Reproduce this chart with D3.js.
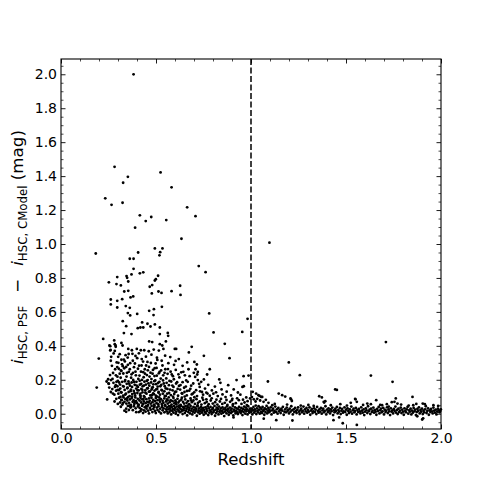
<!DOCTYPE html>
<html>
<head>
<meta charset="utf-8">
<script src="https://cdn.jsdelivr.net/npm/d3@7"></script>
<style>
  body { margin: 0; background: #fff; }
  svg { display: block; font-family: "DejaVu Sans", sans-serif; }
</style>
</head>
<body>
<div id="chart"></div>
<script>
// [redshift, i_PSF - i_CModel] pairs
let sparsePoints = [
  [0.382,2.00],[0.282,1.455],[0.352,1.396],[0.327,1.361],[0.233,1.269],[0.266,1.231],[0.324,1.243],
  [0.524,1.422],[0.582,1.334],[0.664,1.216],[0.708,1.164],[0.415,1.169],[0.475,1.159],[0.446,1.135],
  [0.554,1.141],[0.390,1.096],[0.634,1.031],[0.183,0.944],[0.406,0.950],[0.494,0.974],[0.534,0.974],
  [0.522,0.952],[0.518,0.933],[0.362,0.913],[0.382,0.913],[1.097,1.008],
  [0.382,0.854],[0.725,0.870],[0.761,0.834],[0.296,0.805],[0.345,0.811],[0.348,0.801],[0.371,0.821],
  [0.415,0.827],[0.433,0.833],[0.511,0.813],[0.499,0.793],[0.354,0.779],[0.252,0.774],[0.292,0.764],
  [0.315,0.756],[0.494,0.785],[0.467,0.748],[0.480,0.758],[0.627,0.754],[0.333,0.720],[0.354,0.724],
  [0.478,0.709],[0.513,0.720],[0.529,0.712],[0.582,0.722],[0.629,0.700],[0.262,0.673],[0.262,0.644],
  [0.296,0.665],[0.322,0.675],[0.366,0.685],[0.380,0.691],[0.296,0.626],[0.341,0.634],[0.362,0.624],
  [0.352,0.593],[0.364,0.579],[0.401,0.588],[0.464,0.606],[0.489,0.616],[0.531,0.630],[0.487,0.581],
  [0.780,0.591],[0.982,0.559],[0.325,0.545],[0.427,0.538],[0.455,0.530],[0.343,0.516],[0.404,0.504],
  [0.418,0.508],[0.433,0.508],[0.471,0.514],[0.494,0.526],[0.520,0.508],[0.803,0.479],[0.954,0.482],
  [0.331,0.475],[0.371,0.469],[0.520,0.469],[0.562,0.476],[0.564,0.459],[0.222,0.441],[0.862,0.412],
  [0.887,0.327],[1.710,0.422],[1.199,0.302],[1.257,0.227],[1.631,0.225],[1.745,0.188],[1.089,0.190],
  [0.961,0.221],[0.987,0.225],[0.955,0.158],[0.199,0.325],[0.188,0.154],[0.243,0.084]
];

let cloudPoints = [
  [0.280,0.432],[0.287,0.402],[0.288,0.394],[0.318,0.417],[0.324,0.402],[0.259,0.398],[0.261,0.376],
  [0.354,0.382],[0.464,0.426],[0.480,0.422],[0.552,0.426],[0.520,0.410],[0.533,0.402],[0.539,0.382],
  [0.599,0.382],[0.606,0.382],[0.373,0.374],[0.399,0.382],[0.420,0.374],[0.438,0.374],[0.462,0.368],
  [0.488,0.378],[0.515,0.372],[0.255,0.402],[0.259,0.373],[0.264,0.335],[0.283,0.410],[0.283,0.370],
  [0.301,0.335],[0.673,0.361],[0.688,0.394],[0.664,0.302],[0.752,0.341],
  [0.340,0.345],[0.356,0.352],[0.392,0.340],[0.410,0.356],[0.447,0.336],[0.476,0.348],[0.505,0.330],
  [0.548,0.342],[0.575,0.334],[0.620,0.322],[0.318,0.318],[0.302,0.300],[0.336,0.308],[0.378,0.312],
  [0.425,0.322],[0.455,0.305],[0.498,0.296],[0.530,0.312],[0.565,0.298],[0.595,0.288],[0.640,0.282],
  [0.702,0.305],
  [0.268,0.282],[0.285,0.262],[0.296,0.275],[0.315,0.255],[0.325,0.280],[0.318,0.252],[0.333,0.268],
  [0.347,0.241],[0.352,0.288],[0.362,0.262],[0.371,0.232],[0.384,0.274],[0.392,0.248],[0.405,0.265],
  [0.413,0.225],[0.424,0.284],[0.433,0.245],[0.441,0.262],[0.452,0.228],[0.463,0.276],[0.471,0.242],
  [0.484,0.258],[0.492,0.222],[0.503,0.270],[0.515,0.238],[0.527,0.255],[0.538,0.226],[0.549,0.262],
  [0.561,0.235],[0.577,0.248],[0.589,0.221],[0.604,0.258],[0.618,0.232],[0.633,0.244],[0.652,0.226],
  [0.671,0.262],[0.715,0.290],[0.708,0.262],[0.720,0.246],[0.717,0.231],[0.783,0.262],[0.769,0.231],
  [0.258,0.228],[0.274,0.240],[0.297,0.218],[0.309,0.236],
  [0.240,0.190],[0.252,0.176],[0.263,0.198],[0.276,0.182],[0.288,0.168],[0.299,0.194],[0.311,0.172],
  [0.322,0.188],[0.330,0.160],[0.338,0.198],[0.346,0.176],[0.355,0.190],[0.363,0.165],[0.372,0.184],
  [0.380,0.199],[0.388,0.170],[0.397,0.188],[0.405,0.158],[0.414,0.194],[0.422,0.176],[0.430,0.162],
  [0.439,0.189],[0.447,0.172],[0.456,0.198],[0.465,0.165],[0.474,0.184],[0.483,0.156],[0.491,0.192],
  [0.500,0.174],[0.509,0.160],[0.518,0.188],[0.528,0.170],[0.537,0.196],[0.546,0.162],[0.556,0.182],
  [0.568,0.168],[0.580,0.190],[0.592,0.158],[0.606,0.178],[0.621,0.164],[0.640,0.186],[0.657,0.160],
  [0.667,0.188],[0.696,0.178],[0.706,0.217],[0.752,0.202],[0.738,0.188],[0.720,0.198],[0.833,0.202],
  [0.839,0.182],[0.924,0.198],[0.962,0.162],[0.685,0.165],[0.730,0.158],[0.775,0.170],[0.810,0.160],
  [0.880,0.168],[0.254,0.154],[0.250,0.178],[0.248,0.203],[0.273,0.119],[0.292,0.188],[0.297,0.162],
  [0.304,0.139],[0.313,0.099],[0.320,0.080],
  [0.262,0.128],[0.270,0.145],[0.281,0.112],[0.290,0.136],[0.302,0.118],[0.312,0.148],[0.318,0.125],
  [0.327,0.106],[0.335,0.140],[0.342,0.118],[0.349,0.150],[0.356,0.128],[0.361,0.104],[0.368,0.142],
  [0.375,0.116],[0.383,0.134],[0.390,0.108],[0.396,0.148],[0.402,0.122],[0.409,0.138],[0.416,0.110],
  [0.423,0.146],[0.429,0.126],[0.436,0.104],[0.443,0.138],[0.450,0.118],[0.457,0.150],[0.463,0.130],
  [0.470,0.108],[0.477,0.142],[0.485,0.120],[0.492,0.136],[0.499,0.106],[0.506,0.146],[0.513,0.124],
  [0.521,0.112],[0.529,0.140],[0.536,0.118],[0.544,0.132],[0.552,0.104],[0.560,0.146],[0.569,0.122],
  [0.578,0.110],[0.587,0.138],[0.596,0.116],[0.606,0.130],[0.616,0.106],[0.627,0.142],[0.638,0.118],
  [0.650,0.128],[0.662,0.108],[0.675,0.136],[0.688,0.114],[0.701,0.126],[0.716,0.104],[0.732,0.132],
  [0.748,0.112],[0.765,0.124],[0.783,0.106],[0.802,0.118],[0.825,0.104],[0.850,0.114],[0.909,0.143],
  [0.931,0.125],[0.872,0.130],[0.895,0.108]
];

let cloudExtra = [
  [0.262,0.312],[0.271,0.205],[0.277,0.355],[0.284,0.158],[0.289,0.226],[0.293,0.302],[0.298,0.141],
  [0.304,0.265],[0.306,0.184],[0.309,0.351],[0.314,0.212],[0.316,0.127],[0.321,0.291],[0.326,0.163],
  [0.328,0.237],[0.331,0.319],[0.336,0.191],[0.338,0.112],[0.343,0.276],[0.345,0.219],[0.350,0.154],
  [0.351,0.331],[0.357,0.247],[0.359,0.177],[0.364,0.298],[0.366,0.133],[0.369,0.212],[0.374,0.158],
  [0.376,0.353],[0.379,0.241],[0.385,0.187],[0.387,0.121],[0.389,0.296],[0.394,0.226],[0.398,0.166],
  [0.401,0.327],[0.403,0.139],[0.407,0.205],[0.411,0.283],[0.415,0.171],[0.418,0.119],[0.421,0.248],
  [0.426,0.199],[0.428,0.141],[0.432,0.307],[0.435,0.215],[0.437,0.166],[0.442,0.236],[0.444,0.124],
  [0.448,0.284],[0.451,0.193],[0.453,0.149],[0.457,0.256],[0.460,0.179],[0.466,0.219],[0.468,0.131],
  [0.473,0.299],[0.476,0.204],[0.479,0.152],[0.482,0.236],[0.486,0.173],[0.489,0.115],[0.493,0.268],
  [0.496,0.196],[0.501,0.143],[0.504,0.224],[0.507,0.317],[0.511,0.181],[0.514,0.128],[0.519,0.247],
  [0.523,0.162],[0.525,0.207],[0.532,0.137],[0.534,0.284],[0.541,0.178],[0.545,0.241],[0.551,0.149],
  [0.554,0.208],[0.559,0.118],[0.563,0.263],[0.571,0.193],[0.574,0.142],[0.583,0.231],[0.586,0.166],
  [0.594,0.203],[0.599,0.128],[0.603,0.311],[0.611,0.186],[0.614,0.146],[0.623,0.214],[0.629,0.169],
  [0.636,0.121],[0.644,0.247],[0.648,0.153],[0.659,0.196],[0.663,0.134],[0.677,0.221],[0.681,0.147],
  [0.693,0.118],[0.699,0.241],[0.711,0.139],[0.727,0.176],[0.742,0.128],[0.758,0.148],[0.771,0.119],
  [0.794,0.137],[0.816,0.126],[0.845,0.143],[0.866,0.098],[0.902,0.088],[0.944,0.112],[0.975,0.096],
  [0.315,0.041],[0.326,0.063],[0.347,0.091],[0.361,0.047],[0.374,0.101],[0.389,0.068],[0.407,0.049],
  [0.419,0.104],[0.434,0.087],[0.447,0.043],[0.461,0.067],[0.478,0.109],[0.492,0.047],[0.506,0.101],
  [0.519,0.083],[0.533,0.047],[0.546,0.105],[0.561,0.079],[0.575,0.044],[0.589,0.101],[0.604,0.069],
  [0.621,0.047],[0.633,0.083],[0.651,0.101],[0.666,0.047],[0.684,0.079],[0.702,0.097],[0.719,0.049],
  [0.744,0.094],[0.765,0.085],[0.793,0.091],[0.818,0.083],[0.842,0.087],[0.871,0.081],[0.899,0.079],
  [0.927,0.091],[0.958,0.083],[0.978,0.051]
];

let corePoints = [
  [0.282,0.072],[0.291,0.088],[0.299,0.058],[0.306,0.094],[0.311,0.066],[0.317,0.082],[0.323,0.054],
  [0.329,0.096],[0.334,0.070],[0.339,0.086],[0.344,0.060],[0.349,0.078],[0.353,0.098],[0.358,0.064],
  [0.363,0.084],[0.368,0.052],[0.372,0.092],[0.377,0.070],[0.382,0.080],[0.386,0.058],[0.391,0.096],
  [0.395,0.074],[0.400,0.062],[0.404,0.088],[0.409,0.054],[0.413,0.078],[0.418,0.094],[0.422,0.066],
  [0.427,0.084],[0.431,0.056],[0.436,0.072],[0.440,0.098],[0.445,0.062],[0.449,0.086],[0.454,0.070],
  [0.458,0.052],[0.463,0.090],[0.467,0.076],[0.472,0.060],[0.476,0.094],[0.481,0.068],[0.485,0.082],
  [0.490,0.054],[0.494,0.074],[0.499,0.092],[0.503,0.062],[0.508,0.080],[0.512,0.056],[0.517,0.096],
  [0.521,0.070],[0.526,0.086],[0.530,0.058],[0.535,0.076],[0.539,0.064],[0.544,0.090],[0.548,0.052],
  [0.553,0.072],[0.558,0.084],[0.562,0.060],[0.567,0.096],[0.572,0.068],[0.577,0.080],[0.582,0.054],
  [0.587,0.074],[0.592,0.092],[0.597,0.062],[0.602,0.078],[0.607,0.056],[0.613,0.088],[0.618,0.066],
  [0.624,0.076],[0.630,0.052],[0.636,0.094],[0.642,0.070],[0.648,0.060],[0.654,0.084],[0.661,0.064],
  [0.668,0.074],[0.675,0.056],[0.682,0.090],[0.689,0.068],[0.697,0.078],[0.705,0.058],[0.713,0.086],
  [0.721,0.064],[0.730,0.072],[0.739,0.054],[0.748,0.082],[0.757,0.062],[0.767,0.070],[0.777,0.056],
  [0.788,0.078],[0.799,0.060],[0.811,0.068],[0.823,0.054],[0.836,0.072],[0.849,0.058],[0.862,0.064],
  [0.876,0.052],[0.890,0.070],[0.905,0.056],[0.920,0.062],[0.936,0.080],[0.950,0.058],[0.966,0.066],
  [0.982,0.074],[0.995,0.090],[1.009,0.129],[1.027,0.119],[1.039,0.109],[1.054,0.099],[1.045,0.105],
  [1.059,0.099],[1.005,0.098],[1.015,0.085],[1.024,0.072],[1.033,0.088],[1.048,0.078],[1.066,0.070],
  [1.078,0.082],[1.092,0.064],
  [0.343,0.011],[0.369,0.040],[0.378,0.021],[0.396,0.009],[0.418,0.015],
  [0.334,0.018],[0.343,0.030],[0.352,0.046],[0.357,0.022],[0.366,0.036],[0.384,0.044],[0.393,0.032],
  [0.405,0.042],[0.410,0.010],[0.414,0.034],[0.423,0.026],[0.427,0.046],[0.432,0.004],[0.436,0.020],
  [0.441,0.038],[0.445,0.012],[0.450,0.030],[0.454,0.044],[0.459,0.018],[0.463,0.002],[0.468,0.034],
  [0.472,0.024],[0.477,0.046],[0.481,0.010],[0.486,0.028],[0.490,0.040],[0.495,0.016],[0.499,0.004],
  [0.504,0.036],[0.508,0.022],[0.513,0.044],[0.517,0.012],[0.522,0.030],[0.526,0.002],[0.531,0.040],
  [0.535,0.020],[0.540,0.032],[0.544,0.008],[0.549,0.046],[0.553,0.026],
  [0.556,0.014],[0.559,0.038],[0.562,0.002],[0.565,0.026],[0.568,0.044],[0.571,0.010],[0.574,0.032],
  [0.577,0.020],[0.580,-0.004],[0.583,0.040],[0.586,0.016],[0.589,0.028],[0.592,0.006],[0.595,0.046],
  [0.598,0.022],[0.601,0.034],[0.604,0.000],[0.607,0.012],[0.610,0.042],[0.613,0.026],[0.616,-0.008],
  [0.619,0.018],[0.622,0.036],[0.625,0.008],[0.628,0.030],[0.631,0.046],[0.634,0.014],[0.637,0.024],
  [0.640,-0.002],[0.643,0.040],[0.646,0.020],[0.649,0.032],[0.652,0.004],[0.655,0.044],[0.658,0.016],
  [0.661,0.028],[0.664,-0.010],[0.667,0.038],[0.670,0.010],[0.673,0.022],[0.676,0.034],[0.679,0.002],
  [0.682,0.046],[0.685,0.018],[0.688,0.030],[0.691,-0.004],[0.694,0.012],[0.697,0.040],[0.700,0.024],
  [0.703,0.006],[0.706,0.036],[0.709,0.016],[0.712,0.028],[0.715,-0.012],[0.718,0.044],[0.721,0.008],
  [0.724,0.020],[0.727,0.032],[0.730,0.000],[0.733,0.014],[0.736,0.040],[0.739,0.026],[0.742,0.006],
  [0.745,0.018],[0.748,0.034],[0.751,-0.006],
  [0.754,0.022],[0.757,0.010],[0.760,0.038],[0.763,0.002],[0.766,0.028],[0.769,0.016],[0.772,0.044],
  [0.775,-0.008],[0.778,0.032],[0.781,0.006],[0.784,0.020],[0.787,0.040],[0.790,0.012],[0.793,-0.002],
  [0.796,0.026],[0.799,0.034],[0.802,0.008],[0.805,0.018],[0.808,0.046],[0.811,-0.012],[0.814,0.024],
  [0.817,0.004],[0.820,0.036],[0.823,0.014],[0.826,0.028],[0.829,-0.004],[0.832,0.042],[0.835,0.010],
  [0.838,0.020],[0.841,0.032],[0.844,0.000],[0.847,0.016],[0.850,0.038],[0.853,0.006],[0.856,0.026],
  [0.859,-0.014],[0.862,0.012],[0.865,0.034],[0.868,0.022],[0.871,0.002],[0.874,0.044],[0.877,0.016],
  [0.880,0.028],[0.883,-0.006],[0.886,0.008],[0.889,0.036],[0.892,0.020],[0.895,0.004],[0.898,0.030],
  [0.901,0.012],[0.904,0.046],[0.907,-0.010],[0.910,0.024],[0.913,0.014],[0.916,0.038],[0.919,0.002],
  [0.922,0.018],[0.925,0.032],[0.928,0.008],[0.931,-0.002],[0.934,0.026],[0.937,0.040],[0.940,0.012],
  [0.943,0.020],[0.946,0.004],[0.949,0.034],[0.952,0.016],[0.955,-0.008],[0.958,0.028],[0.961,0.010],
  [0.964,0.042],[0.967,0.022],[0.970,0.000],[0.973,0.036],[0.976,0.014],[0.979,0.026],[0.982,-0.004],
  [0.985,0.044],[0.988,0.018],[0.991,0.006],[0.994,0.030],[0.997,0.012]
];

let bandPoints = [
  [1.001,0.012],[1.004,0.030],[1.007,-0.004],[1.010,0.020],[1.013,0.040],[1.016,0.006],[1.019,0.026],
  [1.022,0.014],[1.025,0.048],[1.028,-0.002],[1.031,0.032],[1.034,0.018],[1.037,0.008],[1.040,0.044],
  [1.043,0.024],[1.046,0.000],[1.049,0.036],[1.052,0.012],[1.055,0.028],[1.058,0.004],[1.061,0.040],
  [1.064,0.016],[1.067,0.022],[1.070,-0.006],[1.073,0.032],[1.076,0.010],[1.079,0.026],[1.082,0.046],
  [1.085,0.002],[1.088,0.018],[1.091,0.034],[1.094,0.008],[1.097,0.024],[1.100,0.014],[1.104,0.038],
  [1.108,-0.004],[1.112,0.020],[1.116,0.030],[1.120,0.006],[1.124,0.016],[1.128,0.042],[1.132,0.010],
  [1.136,0.026],[1.140,0.000],[1.144,0.034],[1.148,0.014],[1.152,0.022],[1.156,0.004],[1.160,0.030],
  [1.164,0.018],[1.168,0.040],[1.172,-0.006],[1.176,0.012],[1.180,0.026],[1.184,0.008],[1.188,0.036],
  [1.192,0.016],[1.196,0.022],[1.200,0.002],[1.204,0.030],[1.208,0.012],[1.212,0.044],[1.216,0.020],
  [1.220,-0.004],[1.224,0.026],[1.228,0.010],[1.232,0.034],[1.236,0.016],[1.240,0.004],[1.244,0.024],
  [1.248,0.038],[1.252,0.012],[1.256,-0.002],[1.260,0.020],[1.264,0.030],[1.268,0.008],[1.272,0.016],
  [1.276,0.042],[1.280,0.000],[1.284,0.026],[1.288,0.014],[1.292,0.034],[1.296,0.006],[1.300,0.022],
  [1.304,0.012],[1.308,0.038],[1.312,-0.006],[1.316,0.018],[1.320,0.028],[1.324,0.004],[1.328,0.014],
  [1.332,0.032],[1.336,0.010],[1.340,0.024],[1.344,-0.002],[1.348,0.040],[1.352,0.016],[1.356,0.006],
  [1.360,0.026],[1.364,0.012],[1.368,0.034],[1.372,0.000],[1.376,0.020],[1.380,0.030],[1.384,0.008],
  [1.388,0.016],[1.392,0.044],[1.396,-0.004],[1.400,0.024],[1.404,0.010],[1.408,0.032],[1.412,0.018],
  [1.416,0.002],[1.420,0.026],[1.424,0.014],[1.428,0.036],[1.432,-0.008],[1.436,0.020],[1.440,0.008],
  [1.444,0.030],[1.448,0.016],[1.452,0.040],[1.456,0.002],[1.460,0.022],[1.464,0.012],[1.468,0.034],
  [1.472,-0.002],[1.476,0.018],[1.480,0.028],[1.484,0.006],[1.488,0.014],[1.492,0.038],[1.496,0.010],
  [1.500,0.024],[1.504,-0.006],[1.508,0.032],[1.512,0.016],[1.516,0.004],[1.520,0.026],[1.524,0.012],
  [1.528,0.042],[1.532,0.000],[1.536,0.020],[1.540,0.030],[1.544,0.008],[1.548,0.016],[1.552,0.034],
  [1.556,-0.004],[1.560,0.022],[1.564,0.010],[1.568,0.028],[1.572,0.014],[1.576,0.002],[1.580,0.038],
  [1.584,0.018],[1.588,0.006],[1.592,0.026],[1.596,-0.008],[1.600,0.012],[1.604,0.032],[1.608,0.020],
  [1.612,0.004],[1.616,0.044],[1.620,0.014],[1.624,0.024],[1.628,-0.002],[1.632,0.030],[1.636,0.010],
  [1.640,0.018],[1.644,0.036],[1.648,0.006],[1.652,0.022],[1.656,0.012],[1.660,-0.006],[1.664,0.028],
  [1.668,0.016],[1.672,0.040],[1.676,0.002],[1.680,0.020],[1.684,0.030],[1.688,0.008],[1.692,0.014],
  [1.696,0.034],[1.700,-0.004],[1.704,0.024],[1.708,0.010],[1.712,0.018],[1.716,0.038],[1.720,0.004],
  [1.724,0.026],[1.728,0.014],[1.732,-0.008],[1.736,0.032],[1.740,0.012],[1.744,0.020],[1.748,0.002],
  [1.752,0.028],[1.756,0.016],[1.760,0.042],[1.764,0.006],[1.768,0.022],[1.772,-0.002],[1.776,0.030],
  [1.780,0.010],[1.784,0.018],[1.788,0.036],[1.792,0.004],[1.796,0.024],[1.800,0.012],[1.804,-0.006],
  [1.808,0.032],[1.812,0.016],[1.816,0.008],[1.820,0.026],[1.824,0.040],[1.828,0.000],[1.832,0.020],
  [1.836,0.012],[1.840,0.030],[1.844,-0.004],[1.848,0.018],[1.852,0.006],[1.856,0.034],[1.860,0.014],
  [1.864,0.024],[1.868,-0.008],[1.872,0.010],[1.876,0.028],[1.880,0.016],[1.884,0.038],[1.888,0.002],
  [1.892,0.022],[1.896,0.012],[1.900,0.030],[1.904,-0.002],[1.908,0.018],[1.912,0.008],[1.916,0.026],
  [1.920,0.044],[1.924,0.004],[1.928,0.016],[1.932,0.032],[1.936,-0.006],[1.940,0.020],[1.944,0.010],
  [1.948,0.028],[1.952,0.014],[1.956,0.002],[1.960,0.036],[1.964,0.018],[1.968,0.006],[1.972,0.024],
  [1.976,-0.004],[1.980,0.012],[1.984,0.030],[1.988,0.020],[1.992,0.008],[1.996,0.016],[1.999,0.026]
];

let bandScatter = [
  [1.146,0.119],[1.164,0.109],[1.180,0.101],[1.208,0.090],[1.215,0.075],[1.211,0.085],[1.359,0.103],
  [1.373,0.096],[1.383,0.070],[1.391,0.074],[1.385,0.066],[1.443,0.143],[1.452,0.140],[1.548,0.087],
  [1.557,0.070],[1.525,0.064],[1.550,0.085],[1.631,0.056],[1.659,0.080],[1.680,0.052],[1.715,0.056],
  [1.725,0.042],[1.741,0.068],[1.762,0.090],[1.755,0.070],[1.771,0.060],[1.850,0.099],[1.854,0.050],
  [1.904,0.060],[1.915,0.056],
  [0.908,-0.022],[1.067,-0.029],[1.133,-0.038],[1.218,-0.040],[1.434,-0.038],[1.464,-0.022],
  [1.483,-0.056],[1.557,-0.066],[1.875,-0.015],[1.906,-0.027],[1.901,-0.034],
  [1.112,0.050],[1.125,0.058],[1.190,0.054],[1.262,0.048],[1.302,0.052],[1.330,0.046],[1.420,0.050],
  [1.470,0.056],[1.505,0.048],[1.590,0.052],[1.612,0.060],[1.690,0.050],[1.790,0.054],[1.830,0.048],
  [1.870,0.058],[1.960,0.050],[1.985,0.046]
];

let redshiftCut = 1.0;

let xMajorTicks = [0, 0.5, 1.0, 1.5, 2.0];
let xMinorTicks = [0.1,0.2,0.3,0.4,0.6,0.7,0.8,0.9,1.1,1.2,1.3,1.4,1.6,1.7,1.8,1.9];
let yMajorTicks = [0, 0.2, 0.4, 0.6, 0.8, 1.0, 1.2, 1.4, 1.6, 1.8, 2.0];
let yMinorTicks = [-0.05,0.05,0.1,0.15,0.25,0.3,0.35,0.45,0.5,0.55,0.65,0.7,0.75,0.85,0.9,0.95,
  1.05,1.1,1.15,1.25,1.3,1.35,1.45,1.5,1.55,1.65,1.7,1.75,1.85,1.9,1.95,2.05];

// dimensions
let width = 491;
let height = 491;
let plotLeft = 61, plotRight = 441, plotTop = 59, plotBottom = 429;

let svg = d3.select("#chart")
  .append("svg")
  .attr("width", width)
  .attr("height", height);

let x = d3.scaleLinear().domain([0, 2]).range([plotLeft, plotRight]);
let y = d3.scaleLinear().domain([-0.09, 2.09]).range([plotBottom, plotTop]);

let allPoints = sparsePoints.concat(cloudPoints, cloudExtra, corePoints, bandPoints, bandScatter);

svg.append("g")
  .selectAll("circle")
  .data(allPoints)
  .enter()
  .append("circle")
  .attr("cx", function (d) { return x(d[0]); })
  .attr("cy", function (d) { return y(d[1]); })
  .attr("r", 1.4)
  .attr("fill", "#000");

// dashed redshift cut
svg.append("line")
  .attr("x1", x(redshiftCut)).attr("x2", x(redshiftCut))
  .attr("y1", plotTop).attr("y2", plotBottom)
  .attr("stroke", "#000")
  .attr("stroke-width", 1.5)
  .attr("stroke-dasharray", "6,2.5");

/**
 * Inward ticks on all four sides
 */
function drawAxis(axisFn, scale, translate, major, minor, labels) {
  let g = svg.append("g").attr("transform", translate);
  g.call(axisFn(scale).tickValues(major).tickSize(-4.5).tickPadding(labels ? 4 : 0)
    .tickFormat(labels ? d3.format(".1f") : ""));
  g.select(".domain").remove();
  g.selectAll("text").attr("font-size", 14).attr("fill", "#000")
    .attr("font-family", "DejaVu Sans");
  g.selectAll("line").attr("stroke", "#000").attr("stroke-width", 0.9);
  let m = svg.append("g").attr("transform", translate);
  m.call(axisFn(scale).tickValues(minor).tickSize(-2.5).tickFormat(""));
  m.select(".domain").remove();
  m.selectAll("line").attr("stroke", "#000").attr("stroke-width", 0.7);
  return g;
}

drawAxis(d3.axisBottom, x, "translate(0," + plotBottom + ")", xMajorTicks, xMinorTicks, true);
drawAxis(d3.axisTop, x, "translate(0," + plotTop + ")", xMajorTicks, xMinorTicks, false);
drawAxis(d3.axisLeft, y, "translate(" + plotLeft + ",0)", yMajorTicks, yMinorTicks, true);
drawAxis(d3.axisRight, y, "translate(" + plotRight + ",0)", yMajorTicks, yMinorTicks, false);

// frame
svg.append("rect")
  .attr("x", plotLeft).attr("y", plotTop)
  .attr("width", plotRight - plotLeft).attr("height", plotBottom - plotTop)
  .attr("fill", "none")
  .attr("stroke", "#000")
  .attr("stroke-width", 1.1);

// axis labels
svg.append("text")
  .attr("x", (plotLeft + plotRight) / 2)
  .attr("y", 465)
  .attr("text-anchor", "middle")
  .attr("font-size", 16.5)
  .text("Redshift");

let yLabel = svg.append("text")
  .attr("transform", "translate(23,247) rotate(-90)")
  .attr("text-anchor", "middle")
  .attr("font-size", 16.7);
yLabel.append("tspan").attr("font-style", "italic").text("i");
yLabel.append("tspan").attr("font-size", 11.8).attr("dy", 3.8).text("HSC, PSF");
yLabel.append("tspan").attr("dy", -3.8).attr("dx", 13).text("\u2212");
yLabel.append("tspan").attr("font-style", "italic").attr("dx", 13).text("i");
yLabel.append("tspan").attr("font-size", 11.8).attr("dy", 3.8).text("HSC, CModel");
yLabel.append("tspan").attr("dy", -3.8).text(" (mag)");
</script>
</body>
</html>
